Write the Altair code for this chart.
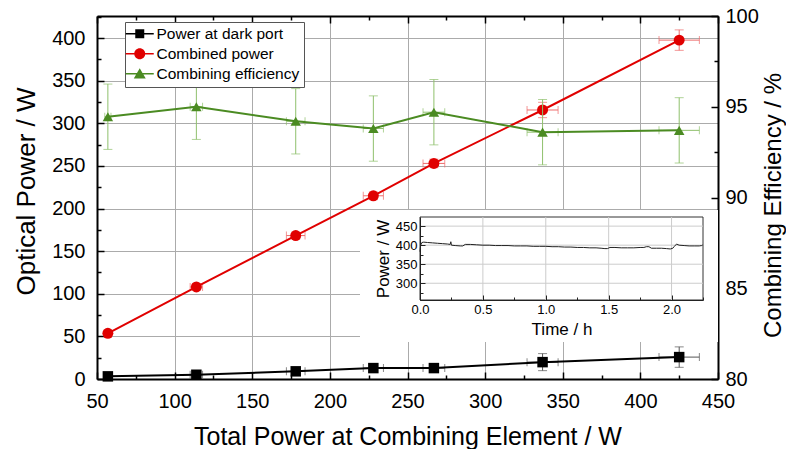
import altair as alt
import pandas as pd

# ---------------- data ----------------
total_power     = [57, 114, 178, 228, 267, 337, 425]
total_power_err = [2, 4, 6, 6.5, 7, 10, 13]
dark_port       = [3.1, 5.0, 9.0, 12.8, 12.8, 19.8, 25.7]
dark_port_err   = [1.0, 1.5, 2.5, 4.0, 4.0, 10.0, 12.0]
combined_power  = [53.6, 108.0, 168.3, 215.0, 253.0, 315.7, 397.7]
combined_err    = [3.0, 3.5, 4.0, 4.5, 5.0, 9.0, 12.0]
efficiency      = [94.45, 95.0, 94.2, 93.8, 94.7, 93.6, 93.7]
efficiency_err  = [1.8, 1.8, 1.8, 1.8, 1.8, 1.8, 1.8]

series_names  = ["Power at dark port", "Combined power", "Combining efficiency"]
series_colors = ["#000000", "#e00000", "#4b8b22"]
errbar_colors = ["#555555", "#ee6a6a", "#8fc06c"]

inset_time = [0.00, 0.005, 0.015, 0.03, 0.06, 0.10, 0.14, 0.18, 0.22, 0.24, 0.245, 0.25,
              0.28, 0.32, 0.34, 0.36, 0.40, 0.45, 0.50, 0.55, 0.60, 0.65, 0.70, 0.75,
              0.80, 0.85, 0.90, 0.95, 1.00, 1.05, 1.10, 1.15, 1.20, 1.25, 1.30, 1.35,
              1.40, 1.44, 1.47, 1.49, 1.51, 1.55, 1.60, 1.65, 1.70, 1.75, 1.78, 1.80,
              1.82, 1.84, 1.88, 1.92, 1.96, 1.99, 2.01, 2.02, 2.04, 2.06, 2.10, 2.14,
              2.18, 2.22, 2.24, 2.25]
inset_power = [383, 400, 407, 408, 407, 406, 405, 404, 403, 402, 409, 400,
               399, 398, 398, 402, 402, 401, 400, 400, 399, 399, 399, 398,
               398, 398, 397, 397, 397, 396, 396, 395, 395, 394, 394, 393,
               393, 392, 391, 391, 394, 394, 393, 393, 393, 394, 394, 396,
               396, 392, 392, 392, 391, 390, 392, 396, 403, 400, 399, 398,
               398, 398, 399, 401]

# axis domains and tick values
x_domain = [50, 450]
x_ticks = list(range(50, 451, 25))
power_domain = [0, 426]
power_ticks = list(range(0, 426, 25))
eff_domain = [80, 100]
eff_ticks = [80, 82.5, 85, 87.5, 90, 92.5, 95, 97.5, 100]
inset_time_domain = [0, 2.25]
inset_time_ticks = [0, 0.25, 0.5, 0.75, 1.0, 1.25, 1.5, 1.75, 2.0, 2.25]
inset_power_domain = [256, 474]
inset_power_ticks = [275, 300, 325, 350, 375, 400, 425, 450]
inset_time_grid = [0.5, 1.0, 1.5, 2.0]
inset_power_grid = [300, 350, 400, 450]

FONT = "Liberation Sans"


def cond(test, a, b):
    return {"condition": {"test": test, "value": a}, "value": b}


def series_frame(y, yerr):
    return pd.DataFrame({
        "x": total_power,
        "xlo": [a - b for a, b in zip(total_power, total_power_err)],
        "xhi": [a + b for a, b in zip(total_power, total_power_err)],
        "y": y,
        "ylo": [a - b for a, b in zip(y, yerr)],
        "yhi": [a + b for a, b in zip(y, yerr)],
    })


# ---------------- axes ----------------
axis_bottom = alt.Axis(
    orient="bottom", values=x_ticks, format="d", title="Total Power at Combining Element / W",
    labelExpr="datum.value % 50 === 0 ? datum.label : ''",
    tickSize=cond("datum.value % 50 === 0", -7, -4),
    grid=True, gridColor="#ababab", gridWidth=1,
    gridOpacity=cond("datum.value % 50 === 0 && datum.value > 50 && datum.value < 450", 1, 0),
    domainColor="black", domainWidth=2, tickColor="black", tickWidth=1.5,
    labelFont=FONT, labelFontSize=20, labelColor="black", labelPadding=19,
    labelFlush=False, labelOverlap=False,
    titleFont=FONT, titleFontSize=25, titleFontWeight="normal", titleColor="black", titlePadding=10,
)
axis_left = alt.Axis(
    orient="left", values=power_ticks, format="d", title="Optical Power / W",
    labelExpr="datum.value % 50 === 0 ? datum.label : ''",
    tickSize=cond("datum.value % 50 === 0", -7, -4),
    grid=True, gridColor="#ababab", gridWidth=1,
    gridOpacity=cond("datum.value % 50 === 0 && datum.value > 0", 1, 0),
    domainColor="black", domainWidth=2, tickColor="black", tickWidth=1.5,
    labelFont=FONT, labelFontSize=20, labelColor="black", labelPadding=19,
    labelFlush=False, labelOverlap=False,
    titleFont=FONT, titleFontSize=26, titleFontWeight="normal", titleColor="black", titlePadding=12,
    titleY=175,
)
axis_top = alt.Axis(
    orient="top", values=x_ticks, title=None, labels=False, grid=False,
    tickSize=cond("datum.value % 50 === 0", -7, -4),
    domainColor="black", domainWidth=2, tickColor="black", tickWidth=1.5,
)
axis_right = alt.Axis(
    orient="right", values=eff_ticks, format="d", title="Combining Efficiency / %",
    labelExpr="datum.value % 5 === 0 ? datum.label : ''",
    tickSize=cond("datum.value % 5 === 0", -7, -4), grid=False,
    domainColor="black", domainWidth=2, tickColor="black", tickWidth=1.5,
    labelFont=FONT, labelFontSize=20, labelColor="black", labelPadding=14,
    labelFlush=False, labelOverlap=False,
    titleFont=FONT, titleFontSize=24, titleFontWeight="normal", titleColor="black",
    titleAngle=270, titleBaseline="top", titlePadding=3, titleY=189,
)
axis_inset_x = alt.Axis(
    orient="bottom", offset=-79, values=inset_time_ticks, format=".1f", title="Time / h",
    labelExpr="datum.value % 0.5 === 0 ? datum.label : ''",
    tickSize=cond("datum.value % 0.5 === 0", -5, -3), grid=False, zindex=1,
    domainColor="#222222", domainWidth=1, tickColor="#222222", tickWidth=1,
    labelFont=FONT, labelFontSize=13, labelColor="black", labelPadding=8,
    labelFlush=False, labelOverlap=False,
    titleFont=FONT, titleFontSize=17, titleFontWeight="normal", titleColor="black", titlePadding=3,
)
axis_inset_y = alt.Axis(
    orient="left", offset=-323, values=inset_power_ticks, format="d", title="Power / W",
    labelExpr="datum.value % 50 === 0 ? datum.label : ''",
    tickSize=cond("datum.value % 50 === 0", -5, -3), grid=False, zindex=1,
    domainColor="#222222", domainWidth=1, tickColor="#222222", tickWidth=1,
    labelFont=FONT, labelFontSize=13, labelColor="black", labelPadding=8,
    labelFlush=False, labelOverlap=False,
    titleFont=FONT, titleFontSize=17, titleFontWeight="normal", titleColor="black", titlePadding=3,
)

x_scale = alt.Scale(domain=x_domain, nice=False, zero=False)
power_scale = alt.Scale(domain=power_domain, nice=False, zero=False)
eff_scale = alt.Scale(domain=eff_domain, nice=False, zero=False)
ix_scale = alt.Scale(domain=inset_time_domain, range=[323, 606], nice=False, zero=False)
iy_scale = alt.Scale(domain=inset_power_domain, range=[284, 201], nice=False, zero=False)


def enc(scale, axis, kind):
    def f(field):
        if kind == "x":
            return alt.X(field, type="quantitative", scale=scale, axis=axis)
        return alt.Y(field, type="quantitative", scale=scale, axis=axis)
    return f


def series_layers(df, color, ecolor, shape, size, X, Y):
    base = alt.Chart(df)
    return [
        base.mark_rule(color=ecolor, strokeWidth=1).encode(x=X("xlo"), x2="xhi", y=Y("y")),
        base.mark_tick(orient="vertical", color=ecolor, size=8, thickness=1).encode(x=X("xlo"), y=Y("y")),
        base.mark_tick(orient="vertical", color=ecolor, size=8, thickness=1).encode(x=X("xhi"), y=Y("y")),
        base.mark_rule(color=ecolor, strokeWidth=1).encode(x=X("x"), y=Y("ylo"), y2="yhi"),
        base.mark_tick(orient="horizontal", color=ecolor, size=9, thickness=1).encode(x=X("x"), y=Y("ylo")),
        base.mark_tick(orient="horizontal", color=ecolor, size=9, thickness=1).encode(x=X("x"), y=Y("yhi")),
        base.mark_line(color=color, strokeWidth=2).encode(x=X("x"), y=Y("y")),
        base.mark_point(shape=shape, filled=True, size=size, color=color, opacity=1,
                        strokeWidth=0).encode(x=X("x"), y=Y("y")),
    ]


XL = enc(x_scale, axis_bottom, "x")
YL = enc(power_scale, axis_left, "y")
XR = enc(x_scale, axis_top, "x")
YR = enc(eff_scale, axis_right, "y")
XI = enc(ix_scale, axis_inset_x, "x")
YI = enc(iy_scale, axis_inset_y, "y")

left_group = alt.layer(
    *series_layers(series_frame(dark_port, dark_port_err), series_colors[0], errbar_colors[0],
                   "square", 110, XL, YL),
    *series_layers(series_frame(combined_power, combined_err), series_colors[1], errbar_colors[1],
                   "circle", 120, XL, YL),
)
right_group = alt.layer(
    *series_layers(series_frame(efficiency, efficiency_err), series_colors[2], errbar_colors[2],
                   "triangle-up", 110, XR, YR),
)

# ---------------- inset ----------------
inset_df = pd.DataFrame({"t": inset_time, "p": inset_power})
frame_df = pd.DataFrame({"t0": [inset_time_domain[0]], "t1": [inset_time_domain[1]],
                         "p0": [inset_power_domain[0]], "p1": [inset_power_domain[1]]})
vgrid_df = pd.DataFrame({"t": inset_time_grid, "p0": inset_power_domain[0], "p1": inset_power_domain[1]})
hgrid_df = pd.DataFrame({"p": inset_power_grid, "t0": inset_time_domain[0], "t1": inset_time_domain[1]})

backdrop = alt.Chart(pd.DataFrame({"a": [0]})).mark_rect(fill="white").encode(
    x=alt.value(263), x2=alt.value(621), y=alt.value(194), y2=alt.value(326))
frame = alt.Chart(frame_df).mark_rect(fill="white", stroke="#333333", strokeWidth=1).encode(
    x=XI("t0"), x2="t1", y=YI("p0"), y2="p1")
vgrid = alt.Chart(vgrid_df).mark_rule(color="#cccccc", strokeWidth=1).encode(
    x=XI("t"), y=YI("p0"), y2="p1")
hgrid = alt.Chart(hgrid_df).mark_rule(color="#cccccc", strokeWidth=1).encode(
    y=YI("p"), x=XI("t0"), x2="t1")
inset_line = alt.Chart(inset_df).mark_line(color="#222222", strokeWidth=1).encode(
    x=XI("t"), y=YI("p"))
inset_group = alt.layer(backdrop, frame, vgrid, hgrid, inset_line)

# ---------------- legend ----------------
legend_paths = [
    "M-2.8,-0.15H2.8V0.15H-2.8Z M-0.9,-0.9H0.9V0.9H-0.9Z",
    "M-2.8,-0.15H2.8V0.15H-2.8Z M1.1,0A1.1,1.1,0,1,1,-1.1,0A1.1,1.1,0,1,1,1.1,0Z",
    "M-2.8,-0.15H2.8V0.15H-2.8Z M0,-1.1L1.2,0.95H-1.2Z",
]
legend = alt.Legend(
    title=None, orient="none", legendX=28, legendY=6, strokeColor="#555555", fillColor="white",
    padding=4, labelFont=FONT, labelFontSize=15.5, labelColor="black", symbolSize=100,
    symbolOffset=3, labelOffset=9, rowPadding=3, symbolStrokeWidth=0,
)
legend_layer = alt.Chart(pd.DataFrame({"series": series_names})).mark_point(
    filled=True, opacity=1).encode(
    fill=alt.Fill("series:N", scale=alt.Scale(domain=series_names, range=series_colors), legend=legend),
    shape=alt.Shape("series:N", scale=alt.Scale(domain=series_names, range=legend_paths), legend=legend),
).transform_filter("false")

chart = alt.layer(left_group, right_group, inset_group, legend_layer).resolve_scale(
    x="independent", y="independent"
).properties(
    width=621, height=363,
    padding={"left": 89, "top": 8, "right": 68, "bottom": 70},
    autosize=alt.AutoSizeParams(type="none"),
    background="white",
).configure_view(stroke=None)

chart.save("out.html", embed_options={"renderer": "svg", "actions": False})
